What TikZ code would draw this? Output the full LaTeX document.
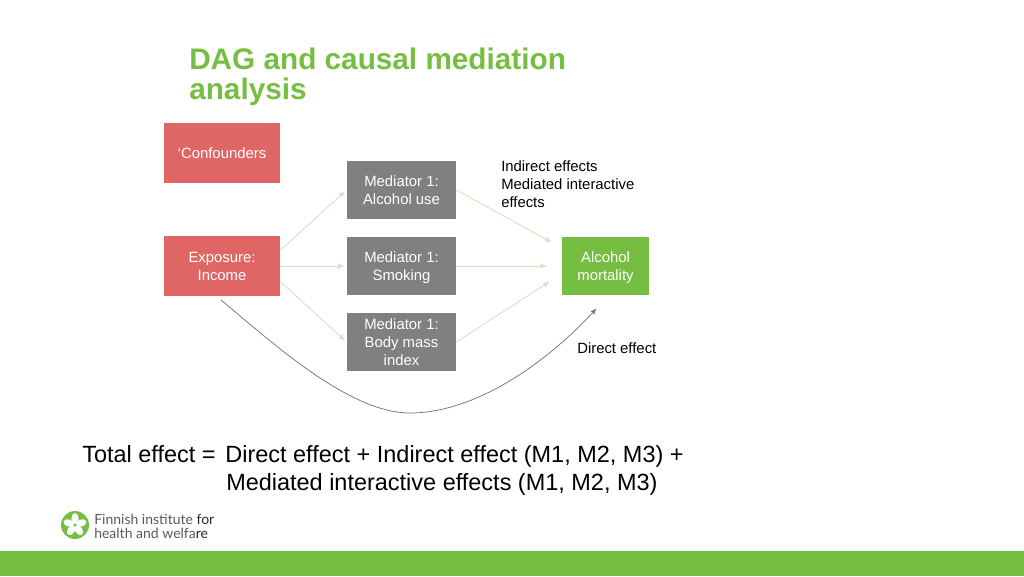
\documentclass[tikz,border=0pt]{standalone}
\usepackage{fontspec}
\setmainfont{Liberation Sans}
\newfontfamily\logofont{Lato}
\usetikzlibrary{positioning, arrows}
\definecolor{R}{RGB}{224,102,102}
\definecolor{K}{RGB}{128,128,128}
\definecolor{G}{RGB}{118,190,66}
\definecolor{L}{RGB}{214,226,196}
\tikzstyle{box} = [inner sep=0pt, align=center, text=white, font=\fontsize{11.15pt}{13.5pt}\selectfont]
\tikzstyle{redbox} = [box, fill=R, minimum width=87pt, minimum height=45pt]
\tikzstyle{midbox} = [box, fill=K, minimum width=82pt, minimum height=43.5pt]
\tikzstyle{endbox} = [box, fill=G, minimum width=65pt, minimum height=43.5pt]
\tikzstyle{note} = [inner sep=0pt, align=left, anchor=north west, font=\fontsize{11.15pt}{13.5pt}\selectfont]
\tikzstyle{total} = [inner sep=0pt, anchor=base west, font=\fontsize{17.6pt}{21pt}\selectfont]
\tikzstyle{title} = [inner sep=0pt, anchor=base west, text=G, font=\bfseries\fontsize{22.3pt}{23pt}\selectfont]
\tikzstyle{logotext} = [inner sep=0pt, anchor=base west, text=black!65, font=\logofont\fontsize{10.5pt}{11pt}\selectfont]
\tikzstyle{arrow} = [->, draw=L, line width=0.7pt]
\tikzstyle{petal} = [fill=white, draw=none]
\begin{document}
\begin{tikzpicture}[>=stealth', x=0.75pt, y=-0.75pt]
      \useasboundingbox (0,0) rectangle (1024,576);
      \fill[G] (0,551) rectangle (1024,576);

      \node[title] (title1) at (189,69) {DAG and causal mediation};
      \node[title] (title2) at (189,99) {analysis};

      \node[redbox] (conf) at (222,153) {`Confounders};
      \node[redbox] (expo) at (222,266) {Exposure:\\Income};
      \node[midbox] (med1) at (401.5,190) {Mediator 1:\\Alcohol use};
      \node[midbox] (med2) at (401.5,266) {Mediator 1:\\\smash{Smoking}};
      \node[midbox] (med3) at (401.5,342) {Mediator 1:\\Body mass\\index};
      \node[endbox] (mort) at (605.5,266) {Alcohol\\\smash{mortality}};

      \node[note] (indirect) at (501,160) {Indirect effects\\Mediated interactive\\effects};
      \node[note] (direct) at (577,342) {Direct effect};

      \coordinate (in1) at (551,242);
      \coordinate (in2) at (546,266);
      \coordinate (in3) at (549,282);
      \coordinate (curvestart) at (221,300);
      \coordinate (curveend) at (596,309);

      \draw [arrow, shorten >=2pt] (expo.15)  -- (med1.west);
      \draw [arrow, shorten >=2pt] (expo.east) -- (med2.west);
      \draw [arrow, shorten >=2pt] (expo.-15) -- (med3.west);
      \draw [arrow] (med1.east) -- (in1);
      \draw [arrow] (med2.east) -- (in2);
      \draw [arrow] (med3.east) -- (in3);
      \draw [->, draw=black!55, line width=0.55pt] (curvestart) .. controls (275,345) and (350,413) .. (410,413)
            .. controls (470,413) and (540,370) .. (curveend);

      \node[total] (total1) at (82,462) {Total effect =\hspace{2.5pt} Direct effect + Indirect effect (M1, M2, M3) +};
      \node[total] (total2) at (226,490) {Mediated interactive effects (M1, M2, M3)};

      % logo
      \fill[G] (75,525) circle (14);
      \foreach \a in {90,162,234,306,18}
        \fill[petal, rotate around={\a-90:(75,525)}] (75,518.5) ellipse (3.6 and 5.4);
      \node[logotext] (logo1) at (94,524) {Finnish institute \textcolor{black!85}{for}};
      \node[logotext] (logo2) at (94,538) {health and welfa\textcolor{black!85}{re}};
\end{tikzpicture}
\end{document}
